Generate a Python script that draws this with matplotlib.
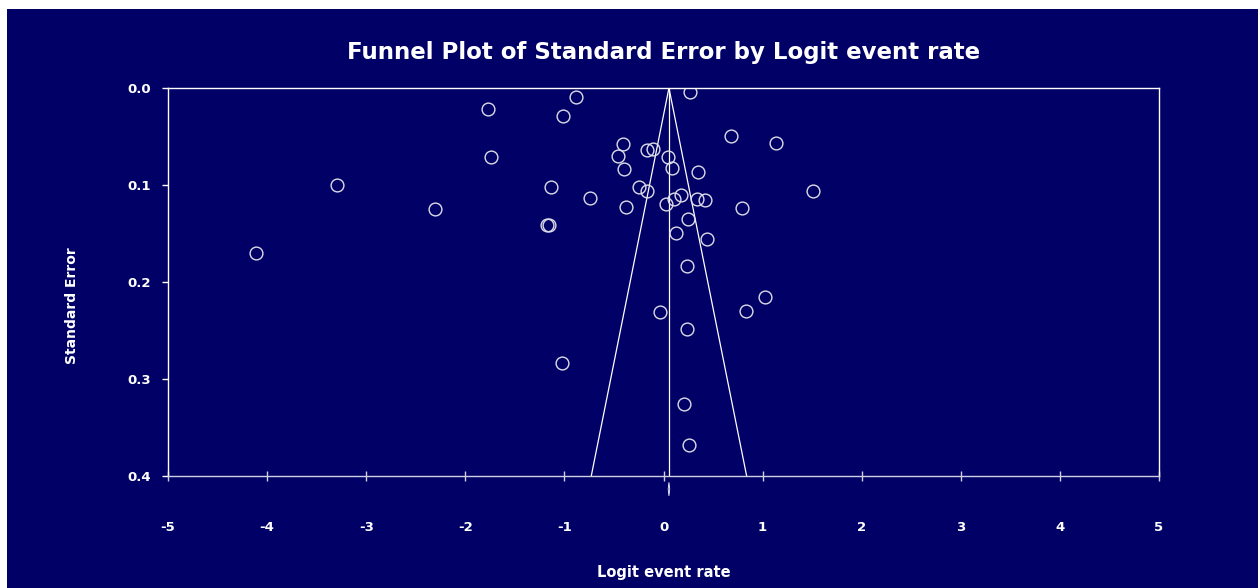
"""
funnel plot of standard error by logit event rate,
redrawn from the meta-analysis output.
"""
import matplotlib.pyplot as plt
from matplotlib.patches import Polygon, Rectangle

plt.rcParams["font.family"] = ["DejaVu Sans"]
plt.rcParams["axes.unicode_minus"] = False

NAVY = "#000066"
MARKER = "#dcdce8"

# logit event rate and standard error for each study
logit_rate = [
    -4.11, -3.29, -2.31, -1.77, -1.74, -1.18, -1.16, -1.14, -1.015, -0.88,
    -0.74, 0.27, 0.68, 1.136, -0.41, -0.17, -0.11, -0.46, 0.047, -0.40,
    0.087, 0.35, -0.245, -0.17, 1.51, 0.18, 0.11, 0.343, 0.42, 0.027,
    -0.376, 0.79, 0.245, 0.124, 0.44, 0.239, 1.02, 0.837, -0.037, 0.235,
    -1.025, 0.205, 0.26,
]
std_error = [
    0.170, 0.100, 0.125, 0.022, 0.071, 0.141, 0.141, 0.102, 0.0285, 0.0096,
    0.113, 0.0038, 0.049, 0.057, 0.058, 0.0636, 0.063, 0.0705, 0.071, 0.083,
    0.082, 0.087, 0.1024, 0.106, 0.106, 0.1107, 0.1144, 0.114, 0.1158, 0.120,
    0.1227, 0.1237, 0.1347, 0.149, 0.156, 0.183, 0.215, 0.230, 0.231, 0.248,
    0.283, 0.326, 0.368,
]

# pooled estimate and its confidence interval
pooled = 0.055
pooled_ci = [0.045, 0.065]
se_max = 0.4
z = 1.96

fig = plt.figure(figsize=(12.58, 5.88), dpi=100, facecolor="white")
fig.patches.append(
    Rectangle((7 / 1258, 0), 1, 1 - 9 / 588, transform=fig.transFigure,
              facecolor=NAVY, edgecolor="none", zorder=-10)
)

ax = fig.add_axes([168 / 1258, 1 - 476 / 588, (1159 - 168) / 1258, (476 - 88) / 588])
ax.set_facecolor(NAVY)

# funnel and pooled line
ax.plot([pooled - z * se_max, pooled, pooled + z * se_max], [se_max, 0, se_max],
        color="white", lw=0.9)
ax.plot([pooled, pooled], [0, se_max], color="white", lw=0.9)

ax.plot(logit_rate, std_error, "o", ms=9.2, mfc="none", mec=MARKER, mew=1.0)

# diamond of the pooled estimate below the axis
ax.add_patch(Polygon(
    [(pooled_ci[0] + 0.002, 0.4135), (pooled, 0.4065),
     (pooled_ci[1] - 0.002, 0.4135), (pooled, 0.4205)],
    closed=True, facecolor="none", edgecolor="white", lw=0.6, clip_on=False,
))

ax.set_xlim(-5, 5)
ax.set_ylim(se_max, 0)
ax.set_xticks(range(-5, 6))
ax.set_yticks([0.0, 0.1, 0.2, 0.3, 0.4])
ax.set_yticklabels([f"{v:.1f}" for v in [0.0, 0.1, 0.2, 0.3, 0.4]])

for s in ax.spines.values():
    s.set_color("white")
    s.set_linewidth(1.0)
ax.spines["bottom"].set_color("#d0d0e0")

ax.tick_params(axis="x", direction="inout", length=7, width=1, color="#d0d0e0",
               labelcolor="white", labelsize=9.5, pad=29)
ax.tick_params(axis="y", direction="out", length=4, width=1, color="white",
               labelcolor="white", labelsize=9.5, pad=8)
for lab in ax.get_xticklabels() + ax.get_yticklabels():
    lab.set_fontweight("bold")

fig.text(664 / 1258, 1 - 52 / 588, "Funnel Plot of Standard Error by Logit event rate",
         color="white", fontsize=16.5, fontweight="bold", ha="center", va="center")
fig.text(664 / 1258, 1 - 572 / 588, "Logit event rate", color="white",
         fontsize=10.5, fontweight="bold", ha="center", va="center")
fig.text(72 / 1258, 1 - 306 / 588, "Standard Error", color="white",
         fontsize=10, fontweight="bold", ha="center", va="center", rotation=90)

fig.savefig("out.png", dpi=100, facecolor=fig.get_facecolor())
